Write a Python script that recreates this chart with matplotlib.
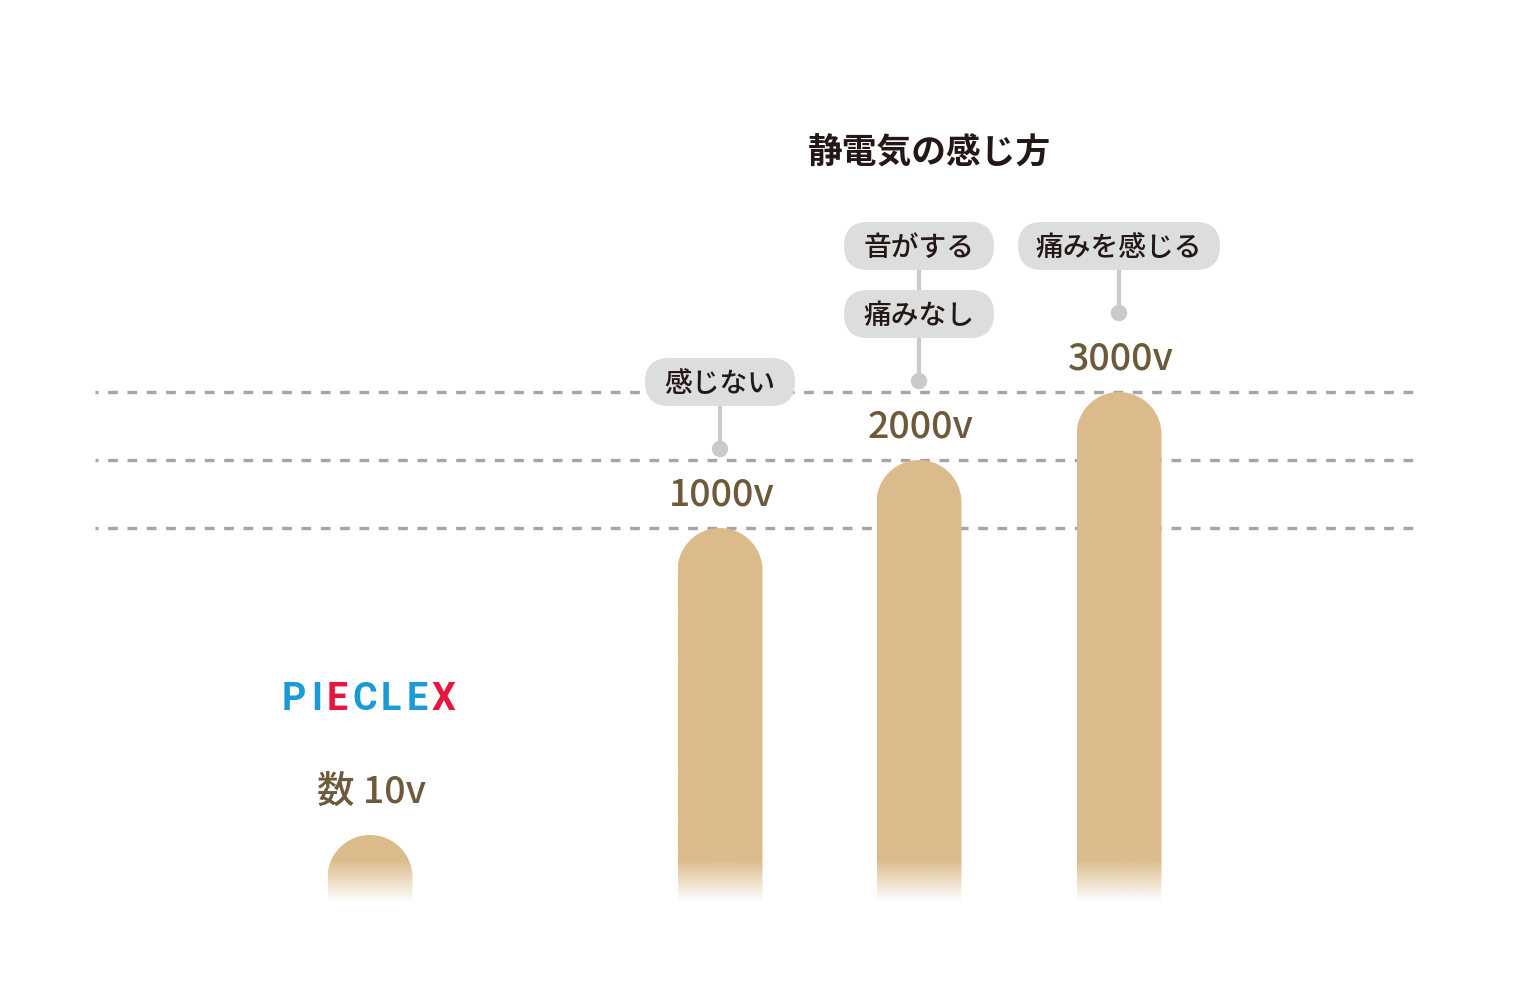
import numpy as np
import matplotlib.pyplot as plt
from matplotlib.patches import FancyBboxPatch, PathPatch, Circle
from matplotlib.path import Path

plt.rcParams['font.family'] = ['Noto Sans CJK JP', 'DejaVu Sans']

# data
labels = ["数 10v", "1000v", "2000v", "3000v"]
heights = [65, 372, 440, 508]          # visual bar heights above the base
notes = [[], ["感じない"], ["音がする", "痛みなし"], ["痛みを感じる"]]
title = "静電気の感じ方"
logo = "PIECLEX"

# layout
xpos = [370, 720, 919, 1119]
base = 100
bar_w = 85
bar_color = (219 / 255, 187 / 255, 139 / 255)
text_brown = "#6d5a3a"
bubble_gray = "#dcdddd"
stem_gray = "#c9caca"

fig = plt.figure(figsize=(15.4, 10), dpi=100)
ax = fig.add_axes([0, 0, 1, 1])
ax.set_xlim(0, 1540)
ax.set_ylim(0, 1000)
ax.axis("off")

# dashed reference lines at the tops of the big bars
for h in heights[1:]:
    ax.hlines(base + h, 95, 1422, colors="#a5a5a5", linewidth=2.4,
              linestyles=(2.0, (2.9, 2.9)), zorder=1)

# gradient image: solid at top, fading to white at the base
rows = 400
grad = np.ones((rows, 1, 4))
grad[..., :3] = bar_color
fade_px = 42

for x, h in zip(xpos, heights):
    r = bar_w / 2
    x0, x1 = x - r, x + r
    top = base + h
    # rectangle + semicircle top
    theta = np.linspace(0, np.pi, 60)
    verts = [(x0, base - 5), (x1, base - 5), (x1, top - r)]
    verts += [(x + r * np.cos(t), top - r + r * np.sin(t)) for t in theta]
    verts += [(x0, top - r), (x0, base - 5)]
    codes = [Path.MOVETO] + [Path.LINETO] * (len(verts) - 2) + [Path.CLOSEPOLY]
    patch = PathPatch(Path(verts, codes), facecolor="none", edgecolor="none")
    ax.add_patch(patch)

    ys = np.linspace(top, base - 5, rows)
    alpha = np.clip((ys - (base - 2)) / fade_px, 0, 1)
    img = grad.copy()
    img[:, 0, 3] = alpha
    im = ax.imshow(img, extent=[x0, x1, base - 5, top], aspect="auto",
                   interpolation="bilinear", zorder=2)
    im.set_clip_path(patch)

# value labels
for i, (x, h, lab) in enumerate(zip(xpos, heights, labels)):
    off = 43 if i == 0 else 33
    ax.text(x + 2, base + h + off, lab, ha="center", va="center",
            fontsize=27, color=text_brown, fontweight="medium", zorder=4)

# annotations: stem, dot and pill bubbles
for x, h, ns in zip(xpos, heights, notes):
    if not ns:
        continue
    top = base + h
    dot_y = top + 79
    first_y = top + 146
    bubble_ys = [first_y + 68 * k for k in range(len(ns))]
    ax.plot([x, x], [dot_y, bubble_ys[-1]], color=stem_gray, lw=3,
            solid_capstyle="butt", zorder=3)
    ax.add_patch(Circle((x, dot_y), 7.5, color=stem_gray, zorder=3))
    for k, n in enumerate(ns):
        by = bubble_ys[len(ns) - 1 - k]
        w = 26 * len(n) + 46
        hh = 48
        ax.add_patch(FancyBboxPatch((x - w / 2, by - hh / 2), w, hh,
                                    boxstyle="round,pad=0,rounding_size=24",
                                    facecolor=bubble_gray, edgecolor="none",
                                    zorder=4))
        ax.text(x, by - 2, n, ha="center", va="center", fontsize=20,
                color="#231815", fontweight="medium", zorder=5)

# title
ax.text(930, 1000 - 153, title, ha="center", va="center", fontsize=25,
        color="#231815", fontweight="bold")

# PIECLEX logo, one text per letter so the colours can differ
logo_colors = ["#1a9ad6", "#1a9ad6", "#e6163e", "#1a9ad6", "#1a9ad6",
               "#1a9ad6", "#e6163e"]
logo_offsets = [-76, -53.5, -32.5, -5, 20.5, 47.5, 73.5]
for ch, c, dx in zip(logo, logo_colors, logo_offsets):
    ax.text(xpos[0] + dx, 1000 - 700, ch, ha="center", va="center",
            fontsize=27, color=c, fontweight="bold", family="Roboto")

fig.savefig("out.png", dpi=100, facecolor="white")
